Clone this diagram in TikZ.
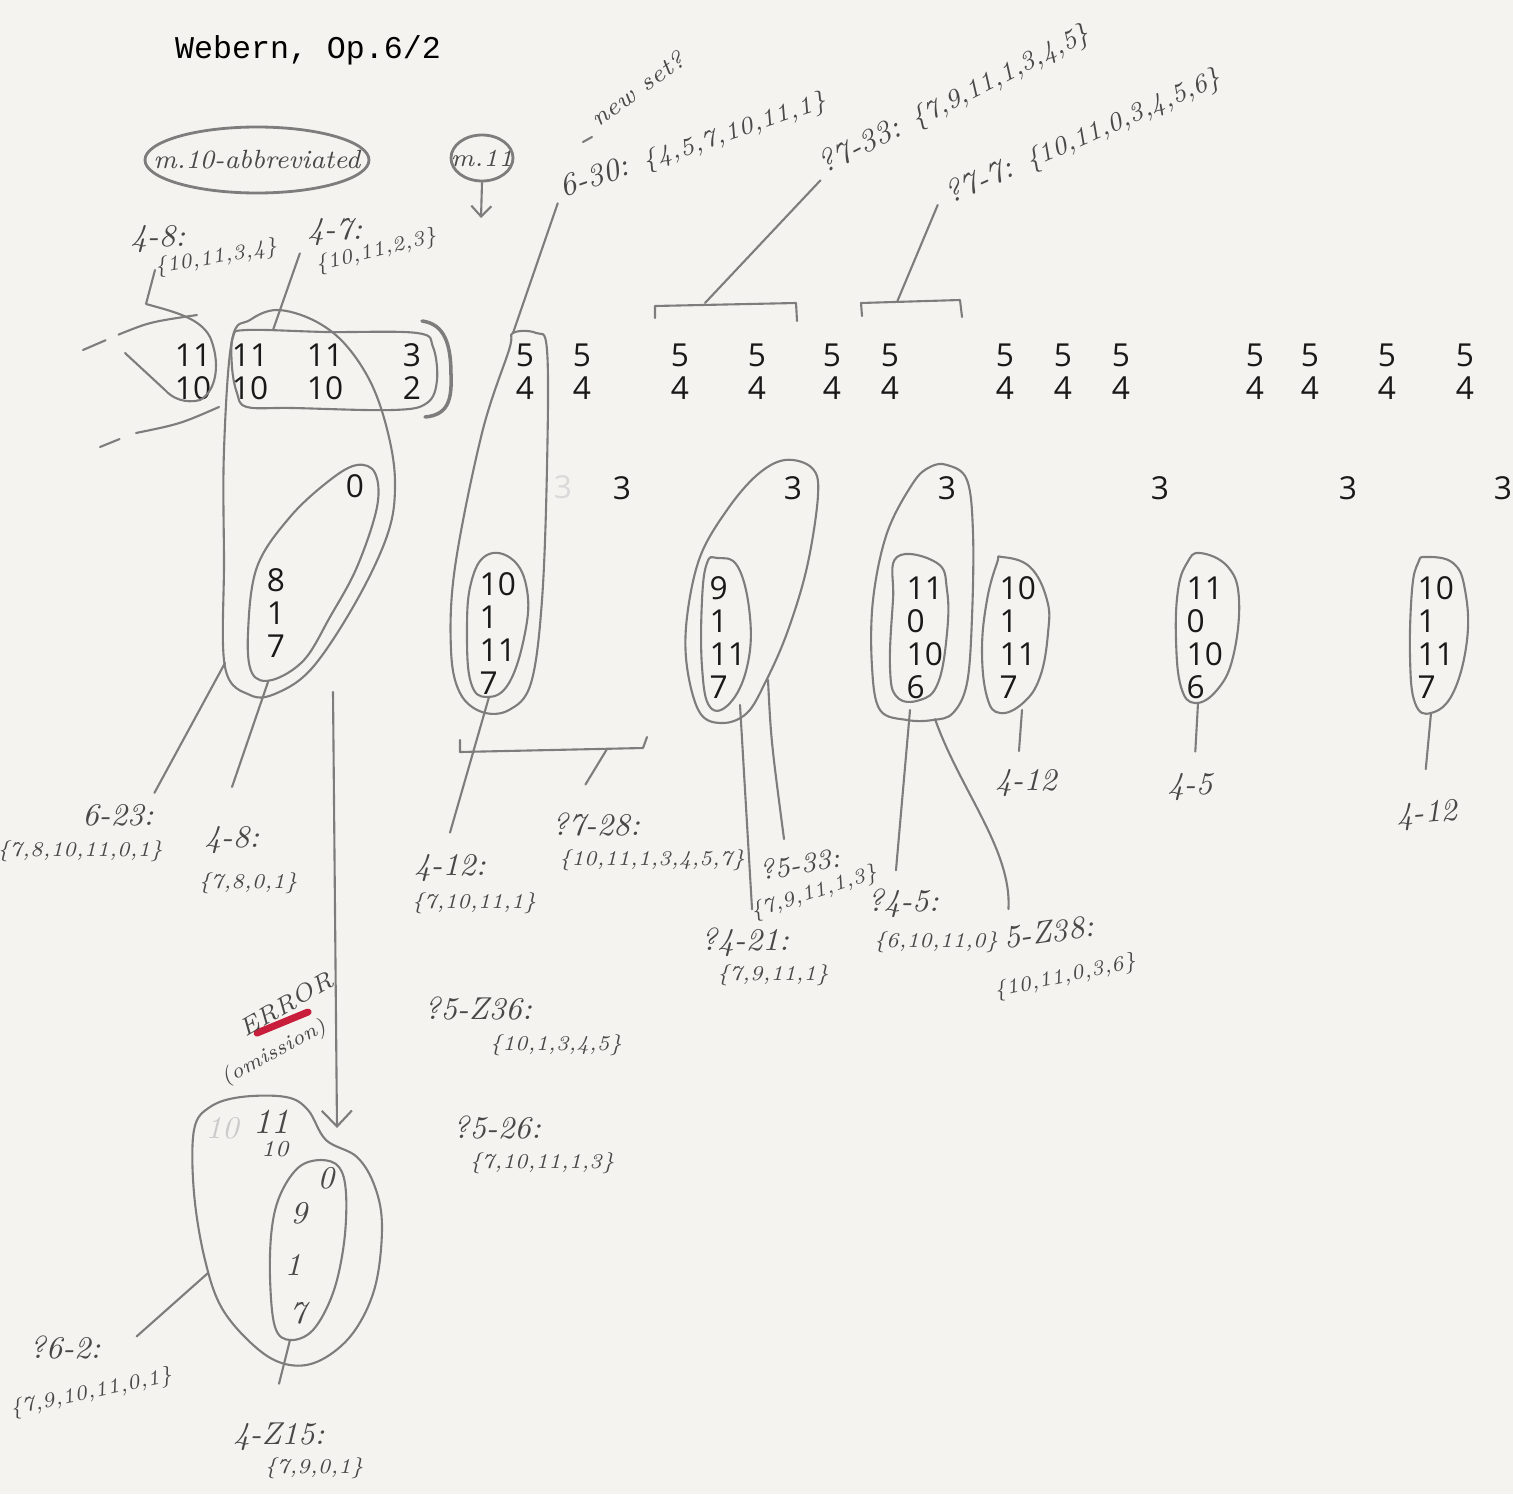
\documentclass[tikz,border=0pt]{standalone}
\usepackage{fontspec}
\newfontfamily\titlefont{Liberation Mono}
\newfontfamily\digitfont{Open Sans}
\usetikzlibrary{arrows.meta, positioning}
\definecolor{paper}{RGB}{244,243,239}
\definecolor{pencil}{RGB}{125,125,125}
\definecolor{lead}{RGB}{72,72,72}
\definecolor{errred}{RGB}{200,30,60}

\begin{document}
\begin{tikzpicture}[x=0.01cm, y=-0.01cm,
  typed/.style={font=\digitfont\fontsize{9}{9.4}\selectfont, inner sep=0pt,
                align=center, text=black!90},
  col/.style={typed, align=left, anchor=north west},
  hand/.style={font=\fontsize{9}{10}\selectfont\itshape, text=lead, inner sep=0pt},
  setlbl/.style={font=\fontsize{6}{7}\selectfont\itshape, text=lead, inner sep=0pt},
  toplbl/.style={hand, anchor=base west},
  pencil/.style={draw=pencil, line width=0.6pt, line cap=round, line join=round},
  vee/.style={-{Straight Barb[length=#1, width=1.9*#1]}}
]
\useasboundingbox (0,0) rectangle (1513,1494);
\fill[paper] (0,0) rectangle (1513,1494);

%% Titel und Takte
\node[font=\titlefont\fontsize{9}{10}\selectfont] (title) at (308,50) {Webern, Op.6/2};
\node[hand, font=\fontsize{7.5}{9}\selectfont\itshape] (m10) at (257,160) {m.10-abbreviated};
\draw[pencil, line width=0.8pt] (m10) ellipse [x radius=112, y radius=33];
\node[hand, font=\fontsize{7}{9}\selectfont\itshape] (m11) at (482,158) {m.11};
\draw[pencil, line width=0.8pt] (m11) ellipse [x radius=31, y radius=23];
\coordinate (m11tip) at (481,218);
\draw[pencil, vee=3pt] ([yshift=-7pt]m11.center) -- (m11tip);

%% obere Reihe (Zweiklaenge)
\node[typed] (g1) at (193,372) {11\\10};
\node[typed] (g2) at (250,372) {11\\10};
\node[typed] (g3) at (325,372) {11\\10};
\node[typed] (g4) at (412,372) {3\\2};
\foreach \x [count=\i] in {525,582,680,757,832,890,1005,1063,1121,1255,1310,1387,1465}
  \node[typed] (p\i) at (\x,372) {5\\4};

%% Reihe der Dreien
\node[typed] (zero) at (355,486) {0};
\node[typed, text=black!15] (ghost) at (563,487) {3};
\foreach \x [count=\i] in {622,793,947,1160,1348,1503}
  \node[typed] (t\i) at (\x,488) {3};

%% Saeulen
\node[typed, anchor=north] (cA) at (276,568) {8\\1\\7};
\node[col] (cB) at (479,572) {10\\1\\11\\7};
\node[col] (cC) at (709,576) {9\\1\\11\\7};
\node[col] (cD) at (906,576) {11\\0\\10\\6};
\node[col] (cE) at (999,576) {10\\1\\11\\7};
\node[col] (cF) at (1186,576) {11\\0\\10\\6};
\node[col] (cG) at (1417,576) {10\\1\\11\\7};

%% Schleifen
\draw[pencil] (155,270) -- (146,304) .. controls (175,312) and (200,318) .. (210,337)
  .. controls (220,360) and (218,390) .. (200,400)
  .. controls (185,404) and (172,398) .. (165,390) -- (125,353);
\draw[pencil, dash pattern=on 7pt off 4pt] (83,350) -- (120,334);
\draw[pencil] (120,334) .. controls (150,322) .. (197,315);
\draw[pencil, dash pattern=on 6pt off 4pt] (100,447) -- (132,434);
\draw[pencil] (136,433) .. controls (180,424) .. (219,407);
\draw[pencil] plot[smooth cycle, tension=0.6] coordinates {(233,337) (247,330) (327,332)
  (417,333) (433,347) (437,380) (427,403) (393,410) (293,408) (247,407) (237,393) (232,367)};
\draw[pencil, line width=1pt] (422,321) .. controls (445,324) and (451,345) .. (451,375)
  .. controls (452,400) and (448,415) .. (425,417);
\draw[pencil] plot[smooth cycle, tension=0.6] coordinates {(232,340) (250,320) (277,310)
  (313,320) (344,343) (371,383) (388,433) (395,483) (388,533) (357,600) (313,667)
  (277,693) (250,695) (225,667) (224,560) (224,450)};
\draw[pencil] plot[smooth cycle, tension=0.6] coordinates {(357,465) (375,473) (377,507)
  (357,567) (330,617) (304,660) (272,680) (252,673) (248,633) (257,567) (290,517) (330,480)};
\draw[pencil] plot[smooth cycle, tension=0.6] coordinates {(513,333) (536,333) (547,350)
  (547,467) (542,600) (531,683) (509,710) (482,712) (460,693) (451,650) (455,567)
  (482,433) (509,350)};
\draw[pencil] plot[smooth cycle, tension=0.7] coordinates {(487,555) (513,560) (527,590)
  (525,633) (509,683) (487,697) (471,683) (467,633) (471,583)};
\draw[pencil] plot[smooth cycle, tension=0.6] coordinates {(785,460) (812,468) (818,495)
  (807,567) (787,633) (765,683) (747,713) (723,723) (700,713) (687,667) (687,617)
  (700,557) (727,510) (757,475)};
\draw[pencil] plot[smooth cycle, tension=0.7] coordinates {(717,558) (738,567) (750,617)
  (747,667) (730,703) (710,707) (702,667) (702,600) (707,563)};
\draw[pencil] plot[smooth cycle, tension=0.6] coordinates {(947,465) (967,480) (973,533)
  (972,617) (967,683) (953,713) (933,720) (907,720) (880,710) (872,667) (873,600)
  (887,533) (913,483) (930,467)};
\draw[pencil] plot[smooth cycle, tension=0.7] coordinates {(897,557) (937,563) (947,590)
  (947,633) (938,683) (920,700) (897,697) (890,667) (893,600)};
\draw[pencil] plot[smooth cycle, tension=0.7] coordinates {(1002,557) (1030,567) (1047,600)
  (1048,633) (1040,677) (1023,703) (1000,713) (987,697) (982,650) (987,600) (997,563)};
\draw[pencil] plot[smooth cycle, tension=0.7] coordinates {(1200,553) (1228,567) (1239,600)
  (1233,657) (1217,690) (1195,703) (1181,687) (1176,640) (1178,590) (1187,563)};
\draw[pencil] plot[smooth cycle, tension=0.7] coordinates {(1426,557) (1453,563) (1465,590)
  (1467,640) (1453,693) (1431,713) (1415,703) (1410,657) (1412,590) (1418,563)};

%% Klammern
\draw[pencil] (655,318) -- (655,306) -- (796,303) -- (797,321);
\draw[pencil] (862,316) -- (861,303) -- (960,300) -- (962,317);
\draw[pencil] (460,740) -- (460,752) -- (643,748) -- (647,737);

%% Bezeichnungen oben
\node[hand] (l48a) at (158,239) {4-8:};
\node[setlbl, rotate=10] (s48a) at (216,258) {\{10,11,3,4\}};
\node[hand] (l47) at (335,232) {4-7:};
\node[setlbl, rotate=14] (s47) at (376,251) {\{10,11,2,3\}};
\node[toplbl, rotate=19] (l630) at (563,198) {6-30: {\fontsize{7}{8}\selectfont\{4,5,7,10,11,1\}}};
\draw[pencil] (583,142) -- (592,137);
\node[setlbl, anchor=base west, rotate=36, font=\fontsize{7}{8}\selectfont\itshape] (newset) at (598,128) {new set?};
\node[toplbl, rotate=27] (l733) at (824,175) {?7-33: {\fontsize{7.5}{8}\selectfont\{7,9,11,1,3,4,5\}}};
\node[toplbl, rotate=24] (l77) at (950,205) {?7-7: {\fontsize{7.5}{8}\selectfont\{10,11,0,3,4,5,6\}}};

%% Bezeichnungen unten
\node[hand] (l623) at (118,815) {6-23:};
\node[setlbl] (s623) at (80,851) {\{7,8,10,11,0,1\}};
\node[hand] (l48b) at (232,840) {4-8:};
\node[setlbl] (s48b) at (248,883) {\{7,8,0,1\}};
\node[hand] (l412) at (450,868) {4-12:};
\node[setlbl] (s412) at (474,903) {\{7,10,11,1\}};
\node[hand] (l728) at (596,825) {?7-28:};
\node[setlbl] (s728) at (652,860) {\{10,11,1,3,4,5,7\}};
\node[hand, rotate=10, font=\fontsize{8}{9}\selectfont\itshape] (l533) at (800,864) {?5-33:};
\node[setlbl, rotate=18] (s533) at (814,893) {\{7,9,11,1,3\}};
\node[hand] (l421) at (745,942) {?4-21:};
\node[setlbl] (s421) at (773,975) {\{7,9,11,1\}};
\node[hand] (l45) at (903,903) {?4-5:};
\node[setlbl] (s45) at (936,942) {\{6,10,11,0\}};
\node[hand, rotate=8] (l538) at (1049,932) {5-Z38:};
\node[setlbl, rotate=12] (s538) at (1065,977) {\{10,11,0,3,6\}};
\node[hand] (l412e) at (1026,783) {4-12};
\node[hand] (l45f) at (1190,787) {4-5};
\node[hand, rotate=5] (l412g) at (1427,815) {4-12};
\node[hand] (l5z36) at (478,1008) {?5-Z36:};
\node[setlbl] (s5z36) at (556,1045) {\{10,1,3,4,5\}};
\node[hand] (l526) at (497,1127) {?5-26:};
\node[setlbl] (s526) at (542,1163) {\{7,10,11,1,3\}};
\node[hand] (l62) at (65,1347) {?6-2:};
\node[setlbl, rotate=12] (s62) at (91,1393) {\{7,9,10,11,0,1\}};
\node[hand] (l415) at (279,1437) {4-Z15:};
\node[setlbl] (s415) at (314,1468) {\{7,9,0,1\}};

%% Fehler (Auslassung)
\coordinate (errtop) at (333,692);
\coordinate (errtip) at (337,1128);
\draw[pencil, vee=4.5pt] (errtop) -- (errtip);
\draw[errred, line width=2pt, line cap=round] (257,1033) -- (308,1012);
\node[hand, rotate=30, font=\fontsize{7}{8}\selectfont\itshape] (err) at (286,1004) {ERROR};
\node[setlbl, rotate=28] (omis) at (274,1053) {(omission)};

%% untere Gruppe
\draw[pencil] plot[smooth cycle, tension=0.6] coordinates {(194,1130) (210,1107) (241,1097)
  (286,1097) (308,1110) (326,1140) (357,1157) (375,1187) (382,1227) (375,1287) (353,1333)
  (321,1360) (290,1365) (259,1350) (223,1310) (205,1260) (194,1193)};
\draw[pencil] plot[smooth cycle, tension=0.6] coordinates {(321,1160) (339,1167) (346,1193)
  (344,1243) (333,1293) (313,1330) (290,1340) (275,1327) (270,1277) (272,1227) (281,1193)
  (299,1167)};
\node[hand, text=pencil!40] (h10a) at (222,1128) {10};
\node[hand, font=\fontsize{10}{11}\selectfont\itshape] (h11) at (271,1122) {11};
\node[setlbl, font=\fontsize{6.5}{7}\selectfont\itshape] (h10b) at (275,1149) {10};
\node[hand] (h0) at (326,1178) {0};
\node[hand] (h9) at (299,1213) {9};
\node[hand] (h1) at (293,1265) {1};
\node[hand] (h7) at (298,1313) {7};

%% Verbindungslinien
\coordinate (aBig) at (225,663);
\coordinate (aIn48) at (268,682);
\coordinate (aBox) at (273,330);
\coordinate (aBtop) at (513,333);
\coordinate (aB) at (489,697);
\coordinate (aCin) at (740,705);
\coordinate (aCout) at (768,680);
\coordinate (aDin) at (910,710);
\coordinate (aDout) at (935,719);
\coordinate (aE) at (1022,710);
\coordinate (aF) at (1198,703);
\coordinate (aG) at (1431,713);
\coordinate (a62) at (208,1273);
\coordinate (a415) at (290,1340);
\coordinate (br1) at (705,303);
\coordinate (br2) at (897,302);
\coordinate (br3) at (607,749);

\draw[pencil] (aBox) -- ([xshift=-2pt, yshift=-2pt]l47.south west);
\draw[pencil] (aBtop) -- ([xshift=-1.5pt, yshift=-1.5pt]l630.base west);
\draw[pencil] (br1) -- ([xshift=-1pt, yshift=-1.5pt]l733.base west);
\draw[pencil] (br2) -- ([xshift=-3.5pt]l77.base west);
\draw[pencil] (aBig) -- ([yshift=3pt]l623.north east);
\draw[pencil] (aIn48) -- ([yshift=11pt]l48b.north);
\draw[pencil] (aB) -- ([yshift=6pt]l412.north);
\draw[pencil] (br3) -- ([xshift=-3pt, yshift=8pt]l728.north);
\draw[pencil] (aCout) .. controls (771,740) .. ([xshift=-4pt, yshift=4pt]l533.north);
\draw[pencil] (aCin) -- ([xshift=2pt, yshift=5pt]l421.north);
\draw[pencil] (aDin) -- ([xshift=-2pt, yshift=5pt]l45.north);
\draw[pencil] (aDout) .. controls (960,790) and (1012,850) .. ([xshift=2pt, yshift=5pt]l538.north west);
\draw[pencil] (aE) -- ([xshift=-2pt, yshift=5pt]l412e.north);
\draw[pencil] (aF) -- ([xshift=1.5pt, yshift=6pt]l45f.north);
\draw[pencil] (aG) -- ([yshift=9pt]l412g.north);
\draw[pencil] (a62) -- ([xshift=10pt, yshift=3pt]l62.east);
\draw[pencil] (a415) -- ([yshift=11pt]l415.north);

\end{tikzpicture}
\end{document}
